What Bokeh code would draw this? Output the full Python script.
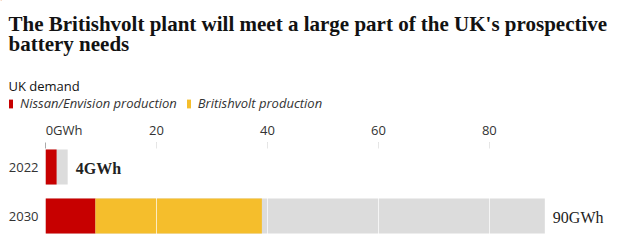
from bokeh.plotting import figure
from bokeh.layouts import column
from bokeh.models import (Range1d, FactorRange, Label, Legend, LegendItem,
                          ColumnDataSource, FixedTicker)
from bokeh.embed import file_html
from bokeh.resources import INLINE
from bokeh.core.properties import value

# ---- data ----
years = ["2022", "2030"]
nissan = [2, 9]
britishvolt = [0, 30]
demand = [4, 90]
ticks = [0, 20, 40, 60, 80]
tick_labels = ["\u2007\u2007\u2007\u2007\u20070GWh", "20", "40", "60", "80"]
series_names = ["Nissan/Envision production", "Britishvolt production"]
title_lines = ["The Britishvolt plant will meet a large part of the UK's prospective",
               "battery needs"]
subtitle = "UK demand"

RED = "#c70000"
YELLOW = "#f5be2c"
GREY = "#dcdcdc"

W, H = 627, 244
HEADER_H = 117
AXIS_H = 24
FRAME_LEFT = 45
BOTTOM = 4

# ---------------- header (title, subtitle, legend) ----------------
hd = figure(width=W, height=HEADER_H, output_backend="svg", toolbar_location=None,
            x_range=Range1d(0, W), y_range=Range1d(HEADER_H, 0),
            x_axis_type=None, y_axis_type=None, min_border=0)
hd.frame_align = False
hd.title.visible = False
hd.grid.visible = False
hd.outline_line_color = None

title_style = dict(text_font="Liberation Serif", text_font_size="21px",
                   text_font_style="bold", text_color="#121212",
                   text_baseline="alphabetic")
hd.add_layout(Label(x=8, y=23, text=title_lines[0], **title_style))
hd.add_layout(Label(x=8, y=43, text=title_lines[1], **title_style))
hd.add_layout(Label(x=8, y=85, text=subtitle, text_font="Open Sans",
                    text_font_size="13px", text_color="#121212",
                    text_baseline="alphabetic"))

# legend swatches (kept outside the visible header range)
swatch = ColumnDataSource(dict(y=[-1000], l=[0], r=[1]))
d_red = hd.hbar(y="y", left="l", right="r", height=1, source=swatch,
                fill_color=RED, line_color=None)
d_yel = hd.hbar(y="y", left="l", right="r", height=1, source=swatch,
                fill_color=YELLOW, line_color=None)
legend = Legend(items=[LegendItem(label=series_names[0], renderers=[d_red]),
                       LegendItem(label=series_names[1], renderers=[d_yel])],
                orientation="horizontal", location=(8, HEADER_H - 112),
                glyph_width=5, glyph_height=11, label_standoff=7, spacing=9,
                padding=0, margin=0, border_line_alpha=0, background_fill_alpha=0,
                label_text_font="Open Sans", label_text_font_style="italic",
                label_text_font_size="13px", label_text_color="#333333")
hd.add_layout(legend, "center")

# ---------------- chart ----------------
src = ColumnDataSource(dict(
    year=years,
    nissan=nissan,
    bv_start=nissan,
    bv_end=[n + b for n, b in zip(nissan, britishvolt)],
    demand=demand,
    label=[f"{d}GWh" for d in demand],
    weight=["bold" if i == 0 else "normal" for i in range(len(years))],
))

p = figure(width=W, height=H - HEADER_H, output_backend="svg", toolbar_location=None,
           x_range=Range1d(0, 104.9),
           y_range=FactorRange(factors=list(reversed(years)), range_padding=0),
           x_axis_location="above",
           min_border_left=FRAME_LEFT, min_border_right=0,
           min_border_bottom=BOTTOM, min_border_top=AXIS_H)
p.frame_align = False
p.title.visible = False

p.hbar(y="year", left=0, right="demand", height=0.71, source=src,
       fill_color=GREY, line_color=None)
p.hbar(y="year", left=0, right="nissan", height=0.71, source=src,
       fill_color=RED, line_color=None)
p.hbar(y="year", left="bv_start", right="bv_end", height=0.71, source=src,
       fill_color=YELLOW, line_color=None)

p.text(x="demand", y="year", text="label", source=src, x_offset=8, y_offset=1,
       text_baseline="middle", text_align="left",
       text_font=value("Liberation Serif"), text_font_size="16px",
       text_font_style="weight", text_color="#222222")

xa = p.xaxis[0]
xa.ticker = FixedTicker(ticks=ticks)
xa.major_label_overrides = {t: l for t, l in zip(ticks, tick_labels)}
xa.axis_line_color = None
xa.major_tick_in = 6
xa.major_tick_out = 0
xa.minor_tick_line_color = None
xa.major_tick_line_color = "#aaaaaa"
xa.major_label_text_font = "Open Sans"
xa.major_label_text_font_size = "13px"
xa.major_label_text_color = "#333333"
xa.major_label_standoff = 4

ya = p.yaxis[0]
ya.axis_line_color = None
ya.major_tick_line_color = None
ya.major_tick_in = 0
ya.major_tick_out = 0
ya.minor_tick_line_color = None
ya.major_label_text_font = "Open Sans"
ya.major_label_text_font_size = "13px"
ya.major_label_text_color = "#333333"
ya.major_label_standoff = 7

p.xgrid.ticker = FixedTicker(ticks=ticks)
p.xgrid.grid_line_color = "white"
p.xgrid.grid_line_alpha = 0.7
p.xgrid.level = "overlay"
p.ygrid.grid_line_color = None
p.outline_line_color = None

layout = column(hd, p, spacing=0)
open("out.html", "w").write(file_html(layout, INLINE))
